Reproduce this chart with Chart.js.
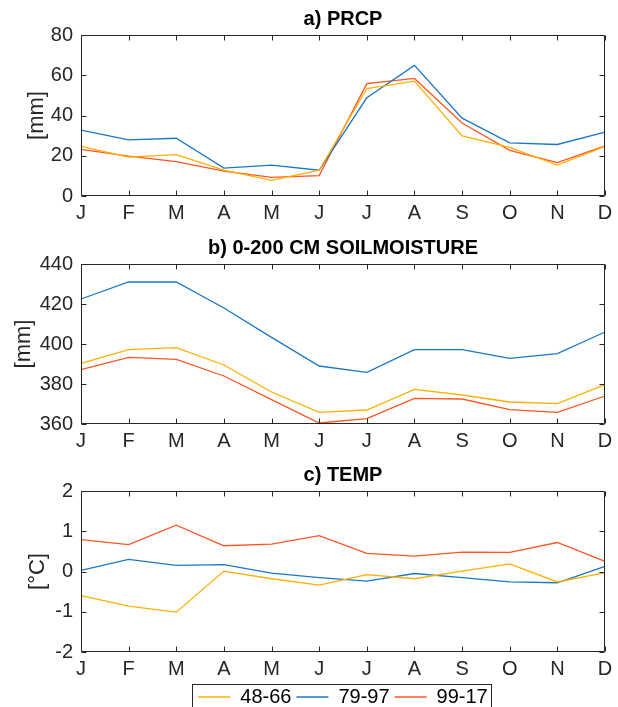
<!DOCTYPE html>
<html>
<head>
<meta charset="utf-8">
<script src="https://cdn.jsdelivr.net/npm/chart.js@4.4.1/dist/chart.umd.min.js"></script>
<style>
  html, body { margin: 0; padding: 0; background: #fff; overflow: hidden; }
  .panel { position: absolute; left: 0; }
</style>
</head>
<body>
<div class="panel" style="top:0px"><canvas id="chart-prcp" width="618" height="226"></canvas></div>
<div class="panel" style="top:229px"><canvas id="chart-soil" width="618" height="225"></canvas></div>
<div class="panel" style="top:456px"><canvas id="chart-temp" width="618" height="261"></canvas></div>
<script>
// ============================================
// DATA
// ============================================

const months = ['J', 'F', 'M', 'A', 'M', 'J', 'J', 'A', 'S', 'O', 'N', 'D'];
const periods = ['48-66', '79-97', '99-17'];

// a) precipitation [mm]
const prcp4866 = [24.7, 19.3, 20.6, 12.8, 7.8, 12.8, 53.4, 57.1, 29.9, 24.2, 15.4, 24.7];
const prcp7997 = [32.7, 27.9, 28.7, 13.9, 15.3, 12.8, 48.8, 64.9, 38.7, 26.4, 25.6, 31.7];
const prcp9917 = [23.2, 19.8, 17.1, 12.4, 9.3, 10.1, 55.8, 58.4, 36.3, 22.7, 16.6, 24.9];

// b) 0-200 cm soil moisture [mm]
const soil4866 = [390.3, 397.2, 398.2, 389.5, 376.0, 365.8, 367.0, 377.3, 374.5, 371.0, 370.2, 379.7];
const soil7997 = [422.5, 431.0, 431.0, 418.0, 403.3, 389.0, 385.8, 397.2, 397.2, 392.8, 395.2, 406.0];
const soil9917 = [387.2, 393.3, 392.3, 384.0, 372.2, 360.5, 362.7, 372.8, 372.5, 367.2, 365.8, 374.0];

// c) temperature [°C]
const temp4866 = [-0.60, -0.86, -1.01, 0.01, -0.18, -0.34, -0.08, -0.18, 0.01, 0.19, -0.26, -0.03];
const temp7997 = [0.03, 0.30, 0.15, 0.17, -0.04, -0.15, -0.24, -0.05, -0.15, -0.26, -0.28, 0.13];
const temp9917 = [0.79, 0.67, 1.15, 0.64, 0.68, 0.89, 0.45, 0.38, 0.48, 0.475, 0.72, 0.25];

// y axis ticks per panel
const prcpTicks = [0, 20, 40, 60, 80];
const soilTicks = [360, 380, 400, 420, 440];
const tempTicks = [-2, -1, 0, 1, 2];

const seriesColors = ['#FFB000', '#1A78C8', '#FF5522'];
const axisColor = '#262626';

// ============================================
// PLUGINS
// ============================================

// MATLAB style box with inward ticks on all four sides
const boxAxes = {
    id: 'boxAxes',
    afterDatasetsDraw(chart) {
        const {ctx, chartArea, scales} = chart;
        const left = Math.round(chartArea.left) + 0.5;
        const right = Math.round(chartArea.right) - 0.5;
        const top = Math.round(chartArea.top) + 0.5;
        const bottom = Math.round(chartArea.bottom) - 0.5;
        const len = 5;
        ctx.save();
        ctx.strokeStyle = axisColor;
        ctx.lineWidth = 1;
        ctx.beginPath();
        scales.x.ticks.forEach((t, i) => {
            const px = Math.round(scales.x.getPixelForTick(i)) + 0.5;
            ctx.moveTo(px, bottom); ctx.lineTo(px, bottom - len);
            ctx.moveTo(px, top); ctx.lineTo(px, top + len);
        });
        scales.y.ticks.forEach((t, i) => {
            const py = Math.round(scales.y.getPixelForTick(i)) + 0.5;
            ctx.moveTo(left, py); ctx.lineTo(left + len, py);
            ctx.moveTo(right, py); ctx.lineTo(right - len, py);
        });
        ctx.rect(left, top, right - left, bottom - top);
        ctx.stroke();
        ctx.restore();
    }
};

// frame around the legend
const legendFrame = {
    id: 'legendFrame',
    afterDraw(chart) {
        const legend = chart.legend;
        if (!legend || !legend.options.display || !legend.legendHitBoxes.length) return;
        const boxes = legend.legendHitBoxes;
        const first = boxes[0];
        const last = boxes[boxes.length - 1];
        const x0 = Math.round(first.left - 6) + 0.5;
        const x1 = Math.round(last.left + last.width + 3) + 0.5;
        const y0 = Math.round(first.top - 3) + 0.5;
        const ctx = chart.ctx;
        ctx.save();
        ctx.strokeStyle = axisColor;
        ctx.lineWidth = 1;
        ctx.strokeRect(x0, y0, x1 - x0, chart.height + 10 - y0);
        ctx.restore();
    }
};

// ============================================
// CHARTS
// ============================================

Chart.defaults.font.family = "'Liberation Sans', Arial, Helvetica, sans-serif";
Chart.defaults.color = axisColor;

function makePanel(canvasId, title, yTitle, titleGap, tickValues, series, showLegend) {
    const datasets = series.map((values, i) => ({
        label: periods[i],
        data: values,
        borderColor: seriesColors[i],
        backgroundColor: seriesColors[i],
        borderWidth: 1.3,
        pointRadius: 0,
        tension: 0,
        fill: false
    }));

    return new Chart(document.getElementById(canvasId), {
        type: 'line',
        data: { labels: months, datasets: datasets },
        options: {
            responsive: false,
            animation: false,
            devicePixelRatio: 1,
            layout: { padding: { left: 0, right: 13, top: 0, bottom: 0 } },
            plugins: {
                title: {
                    display: true,
                    text: title,
                    fullSize: false,
                    color: '#000',
                    font: { size: 20, weight: 'bold', lineHeight: 1.0 },
                    padding: { top: 9, bottom: 6 }
                },
                legend: {
                    display: showLegend,
                    position: 'bottom',
                    fullSize: false,
                    labels: {
                        color: '#000',
                        font: { size: 20 },
                        usePointStyle: true,
                        pointStyle: 'line',
                        pointStyleWidth: 32,
                        boxHeight: 20,
                        padding: 5
                    }
                },
                tooltip: { enabled: false }
            },
            scales: {
                x: {
                    type: 'category',
                    offset: false,
                    grid: { display: false, drawTicks: false },
                    border: { display: false },
                    ticks: {
                        color: axisColor,
                        font: { size: 20 },
                        padding: 5,
                        maxRotation: 0,
                        autoSkip: false
                    },
                    afterFit: (s) => { s.height = 30; }
                },
                y: {
                    min: tickValues[0],
                    max: tickValues[tickValues.length - 1],
                    afterBuildTicks: (s) => { s.ticks = tickValues.map(v => ({ value: v })); },
                    grid: { display: false, drawTicks: false },
                    border: { display: false },
                    ticks: {
                        color: axisColor,
                        font: { size: 20 },
                        padding: 8
                    },
                    title: {
                        display: true,
                        text: yTitle,
                        color: axisColor,
                        font: { size: 22 },
                        padding: { top: titleGap, bottom: 0 }
                    },
                    afterFit: (s) => { s.width = 81; }
                }
            }
        },
        plugins: [boxAxes, legendFrame]
    });
}

document.addEventListener('DOMContentLoaded', () => {
    makePanel('chart-prcp', 'a) PRCP', '[mm]', 24, prcpTicks, [prcp4866, prcp7997, prcp9917], false);
    makePanel('chart-soil', 'b) 0-200 CM SOILMOISTURE', '[mm]', 11, soilTicks, [soil4866, soil7997, soil9917], false);
    makePanel('chart-temp', 'c) TEMP', '[°C]', 25, tempTicks, [temp4866, temp7997, temp9917], true);
});
</script>
</body>
</html>
